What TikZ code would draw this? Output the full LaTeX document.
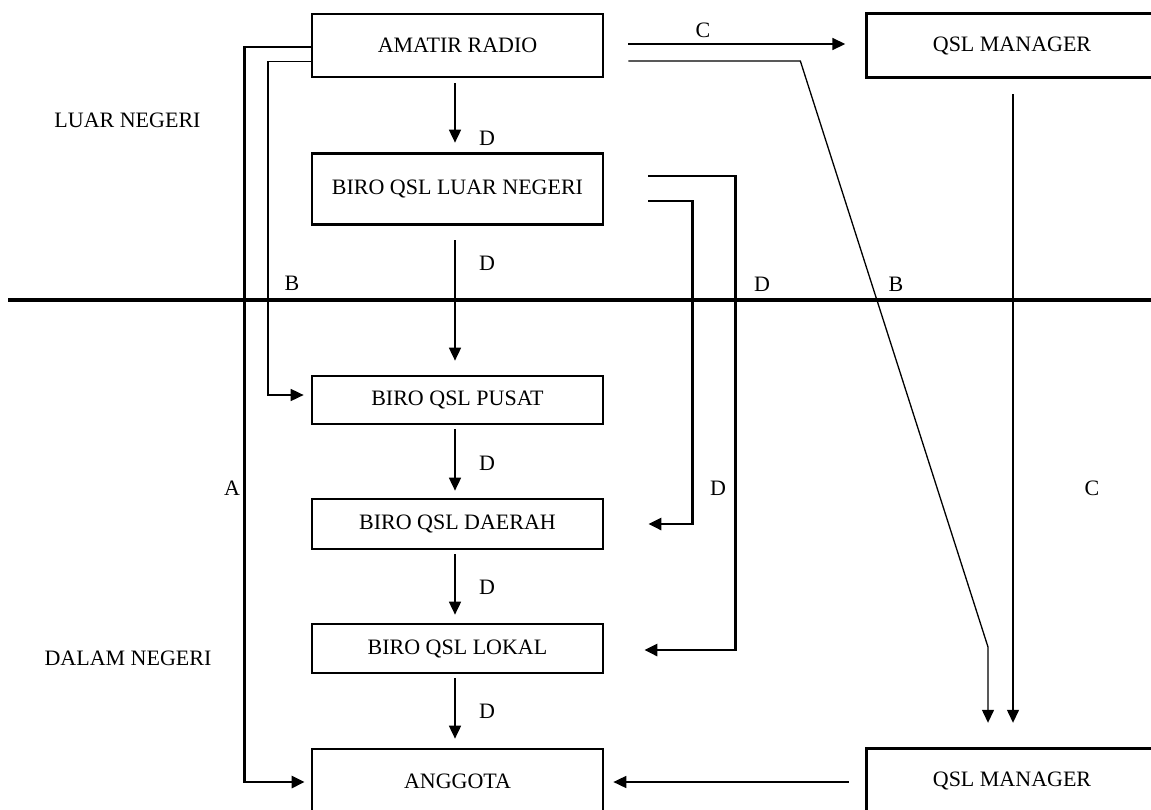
\documentclass[tikz,border=0pt]{standalone}
\usepackage{fontspec}
\setmainfont{Liberation Serif}
\usetikzlibrary{arrows.meta,calc}
\begin{document}
\begin{tikzpicture}[x=1pt,y=-1pt,
  box/.style={draw,line width=2.7pt,minimum width=291pt,inner sep=0pt,font=\fontsize{22}{26}\selectfont},
  openbox/.style={minimum width=291pt,inner sep=0pt,font=\fontsize{22}{26}\selectfont},
  boxline/.style={line width=2.7pt},
  lbl/.style={font=\fontsize{22}{26}\selectfont,inner sep=0pt},
  tip/.style={-{Triangle[length=13pt,width=12pt]}},
  thinline/.style={line width=1.3pt},
  midline/.style={line width=1.7pt},
  heavyline/.style={line width=2.8pt},
  divider/.style={line width=4.5pt}]
\useasboundingbox (0,0) rectangle (1151,809);
\clip (0,0) rectangle (1151,809);

% divider
\coordinate (divL) at (8,300);
\coordinate (divR) at (1160,300);
\draw[divider] (divL) -- (divR);

% boxes
\node[box,minimum height=63pt] (amatir) at (457.5,45.5) {AMATIR RADIO};
\node[box,minimum height=71pt] (luar) at (457.5,189) {BIRO QSL LUAR NEGERI};
\node[box,minimum height=48pt] (pusat) at (457.5,400) {BIRO QSL PUSAT};
\node[box,minimum height=50pt] (daerah) at (457.5,524) {BIRO QSL DAERAH};
\node[box,minimum height=49pt] (lokal) at (457.5,648.5) {BIRO QSL LOKAL};
\node[box,minimum height=64pt] (anggota) at (457.5,781) {ANGGOTA};
\node[openbox,minimum height=63pt] (qsla) at (1012,45.5) {QSL MANAGER};
\node[openbox,minimum height=64pt] (qslb) at (1012,781) {QSL MANAGER};
\draw[boxline] (qsla.north west) rectangle ($(qsla.south east)+(40,0)$);
\draw[boxline] (qslb.north west) rectangle ($(qslb.south east)+(40,0)$);

% side labels
\node[lbl] (ln) at (127.5,120) {LUAR NEGERI};
\node[lbl] (dn) at (128,658) {DALAM NEGERI};

% vertical D chain
\draw[midline,tip,shorten <=5pt,shorten >=9.5pt] ([xshift=-2.5]amatir.south) -- ([xshift=-2.5]luar.north);
\draw[midline,tip,shorten <=14.5pt,shorten >=14pt] ([xshift=-2.5]luar.south) -- ([xshift=-2.5]pusat.north);
\draw[midline,tip,shorten <=4pt,shorten >=7pt] ([xshift=-2.5]pusat.south) -- ([xshift=-2.5]daerah.north);
\draw[midline,tip,shorten <=4pt,shorten >=8pt] ([xshift=-2.5]daerah.south) -- ([xshift=-2.5]lokal.north);
\draw[midline,tip,shorten <=4pt,shorten >=9pt] ([xshift=-2.5]lokal.south) -- ([xshift=-2.5]anggota.north);
\node[lbl] (d1) at (487,138) {D};
\node[lbl] (d2) at (487,263) {D};
\node[lbl] (d3) at (487,463) {D};
\node[lbl] (d4) at (487,587) {D};
\node[lbl] (d5) at (487,711) {D};

% A route
\draw[heavyline,tip] ([yshift=-1.5]amatir.west) -- ++(-66,0) |- ([xshift=-6,yshift=-1]anggota.west);
\node[lbl] (la) at (232,488) {A};

% B route (left)
\draw[midline,tip] ([yshift=-16]amatir.west) -- ++(-43,0) |- ([xshift=-7,yshift=5]pusat.west);
\node[lbl] (lb1) at (292,283) {B};

% C route (top)
\draw[midline,tip] ([xshift=24,yshift=1.5]amatir.east) -- ([xshift=-21,yshift=1.5]qsla.west);
\node[lbl] (lc1) at (703,30) {C};

% B route (diagonal)
\coordinate (bbend) at (988,647);
\draw[thinline,tip] ([xshift=24,yshift=-15.5]amatir.east) -- ++(172,0) -- (bbend) -- ([xshift=-24,yshift=26]qslb.north);
\node[lbl] (lb2) at (896,284) {B};

% C route (vertical)
\draw[thinline,tip] ([xshift=1,yshift=-17]qsla.south) -- ([xshift=1,yshift=26]qslb.north);
\node[lbl] (lc2) at (1092,488) {C};

% D routes (right)
\draw[heavyline,tip] ([xshift=44,yshift=13]luar.east) -- ++(87,0) |- ([xshift=40,yshift=-1.5]lokal.east);
\draw[heavyline,tip] ([xshift=44,yshift=-12]luar.east) -- ++(44,0) |- ([xshift=44]daerah.east);
\node[lbl] (ld1) at (762,284) {D};
\node[lbl] (ld2) at (718,488) {D};

% bottom arrow
\draw[midline,tip] ([xshift=-17.5,yshift=-1]qslb.west) -- ([xshift=9,yshift=-1]anggota.east);
\end{tikzpicture}
\end{document}
